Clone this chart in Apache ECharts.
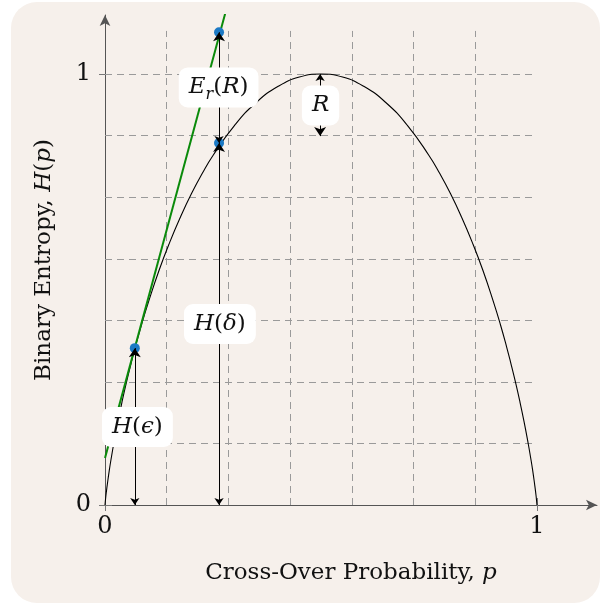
<html>
<head>
    <title>Binary entropy</title>
    <meta charset="utf-8">
    <style type="text/css">
        body { margin: 0; background: #fff; }
        #wrap { position: relative; width: 600px; height: 605px; }
        #bg { position: absolute; left: 11px; top: 2px; width: 589px; height: 601px; background: #f6f0eb; border-radius: 26px; }
        #chart { position: absolute; left: 0; top: 0; width: 600px; height: 605px; }
    </style>
</head>
<body>
    <div id="wrap">
        <div id="bg"></div>
        <div id="chart"></div>
    </div>
</body>
</html>

<script src="https://cdn.jsdelivr.net/npm/echarts@6/dist/echarts.min.js"></script>
<script>

    // binary entropy curve
    var curveP = [0, 0.002, 0.005, 0.01, 0.015, 0.02, 0.03, 0.04, 0.05, 0.06, 0.07, 0.085, 0.1, 0.125, 0.15, 0.175, 0.2, 0.225, 0.25,
        0.3, 0.35, 0.4, 0.45, 0.5, 0.55, 0.6, 0.65, 0.7, 0.75, 0.775, 0.8, 0.825, 0.85, 0.875, 0.9, 0.915, 0.93, 0.94, 0.95,
        0.96, 0.97, 0.98, 0.985, 0.99, 0.995, 0.998, 1];
    var curveH = [0, 0.021, 0.045, 0.081, 0.112, 0.141, 0.194, 0.242, 0.286, 0.327, 0.366, 0.420, 0.469, 0.544, 0.610, 0.669, 0.722, 0.769, 0.811,
        0.881, 0.934, 0.971, 0.993, 1, 0.993, 0.971, 0.934, 0.881, 0.811, 0.769, 0.722, 0.669, 0.610, 0.544, 0.469, 0.420, 0.366, 0.327, 0.286,
        0.242, 0.194, 0.141, 0.112, 0.081, 0.045, 0.021, 0];

    // green tangent line
    var tangentP = [0, 0.28];
    var tangentH = [0.109, 1.147];

    // blue points: H(eps), H(delta), tangent at delta
    var pointP = [0.069, 0.264, 0.264];
    var pointH = [0.364, 0.840, 1.097];

    // double arrows [p, from, to]
    var arrowP = [0.069, 0.264, 0.264, 0.498];
    var arrowFrom = [0, 0, 0.840, 1.0];
    var arrowTo = [0.364, 0.840, 1.097, 0.856];

    // boxed labels
    var labelText = ['{i|E}{s|r}{n|(}{i|R}{n|)}', '{i|R}', '{i|H}{n|(}{i|δ}{n|)}', '{i|H}{n|(}{i|ϵ}{n|)}'];
    var labelP = [0.263, 0.499, 0.266, 0.075];
    var labelH = [0.969, 0.927, 0.420, 0.181];

    // dashed grid
    var gridX = [0.1429, 0.2857, 0.4286, 0.5714, 0.7143, 0.8571];
    var gridY = [0.1429, 0.2857, 0.4286, 0.5714, 0.7143, 0.8571, 1];
    var gridTop = 1.1;
    var gridRight = 1;

    var tickValues = [0, 1];

    var font = 'DejaVu Serif';
    var ink = '#111';

    var richText = {
        n: { fontFamily: font, fontSize: 23, color: ink, lineHeight: 30 },
        i: { fontFamily: font, fontSize: 23, color: ink, fontStyle: 'italic', lineHeight: 30 }
    };

    var curveData = [];
    for (var i = 0; i < curveP.length; i++) {
        curveData.push([curveP[i], curveH[i]]);
    }

    var tangentData = [];
    for (var i = 0; i < tangentP.length; i++) {
        tangentData.push([tangentP[i], tangentH[i]]);
    }

    var pointData = [];
    for (var i = 0; i < pointP.length; i++) {
        pointData.push([pointP[i], pointH[i]]);
    }

    var arrowData = [];
    for (var i = 0; i < arrowP.length; i++) {
        arrowData.push({ coords: [[arrowP[i], arrowFrom[i]], [arrowP[i], arrowTo[i]]] });
    }

    var gridData = [];
    for (var i = 0; i < gridX.length; i++) {
        gridData.push({ coords: [[gridX[i], 0], [gridX[i], gridTop]] });
    }
    for (var i = 0; i < gridY.length; i++) {
        gridData.push({ coords: [[0, gridY[i]], [gridRight, gridY[i]]] });
    }

    var labelData = [];
    for (var i = 0; i < labelText.length; i++) {
        labelData.push({ value: [labelP[i], labelH[i]], text: labelText[i] });
    }

    var xMax = 1.139;
    var yMax = 1.137;

    function mainAxis(isX) {
        return {
            type: 'value',
            min: 0,
            max: isX ? xMax : yMax,
            position: isX ? 'bottom' : 'left',
            name: isX ? '{n|Cross-Over Probability, }{i|p}' : '{n|Binary Entropy, }{i|H}{n|(}{i|p}{n|)}',
            nameLocation: 'middle',
            nameGap: isX ? 53 : 46,
            nameTextStyle: { rich: richText },
            axisLine: {
                show: true,
                symbol: ['none', 'arrow'],
                symbolSize: [8, 11],
                lineStyle: { color: '#555', width: 1 }
            },
            axisTick: { show: true, customValues: tickValues, length: 6, lineStyle: { color: '#777' } },
            axisLabel: {
                customValues: tickValues,
                fontFamily: font,
                fontSize: 24,
                color: ink,
                margin: isX ? 10 : 14
            },
            splitLine: { show: false }
        };
    }

    function innerAxis(isX) {
        return {
            type: 'value',
            min: 0,
            max: isX ? xMax : yMax,
            position: isX ? 'bottom' : 'left',
            axisLine: { show: false },
            axisTick: { show: true, inside: true, customValues: tickValues, length: 7, lineStyle: { color: '#777' } },
            axisLabel: { show: false },
            splitLine: { show: false }
        };
    }

    var option = {
        animation: false,
        backgroundColor: 'transparent',
        grid: { left: 105, right: 3, top: 15, bottom: 100 },
        xAxis: [mainAxis(true), innerAxis(true)],
        yAxis: [mainAxis(false), innerAxis(false)],
        series: [
            {
                type: 'lines',
                coordinateSystem: 'cartesian2d',
                data: gridData,
                silent: true,
                z: 1,
                lineStyle: { color: '#9a9a9a', width: 1, type: [7, 5], opacity: 1 }
            },
            {
                type: 'line',
                data: curveData,
                showSymbol: false,
                smooth: true,
                z: 3,
                lineStyle: { color: '#000', width: 1.1 }
            },
            {
                type: 'line',
                data: tangentData,
                showSymbol: false,
                z: 4,
                lineStyle: { color: '#0a8a0a', width: 2 }
            },
            {
                type: 'scatter',
                data: pointData,
                symbolSize: 10,
                z: 5,
                itemStyle: { color: '#1b79c4', opacity: 1 }
            },
            {
                type: 'lines',
                coordinateSystem: 'cartesian2d',
                data: arrowData,
                symbol: ['arrow', 'arrow'],
                symbolSize: [7, 9],
                z: 6,
                lineStyle: { color: '#000', width: 1, opacity: 1 }
            },
            {
                type: 'scatter',
                data: labelData,
                symbolSize: 1,
                z: 8,
                itemStyle: { color: 'rgba(0,0,0,0)', opacity: 1 },
                label: {
                    show: true,
                    position: 'inside',
                    opacity: 1,
                    formatter: function (p) { return p.data.text; },
                    backgroundColor: '#fff',
                    borderRadius: 9,
                    padding: [5, 10],
                    rich: {
                        n: richText.n,
                        i: richText.i,
                        s: { fontFamily: font, fontSize: 16, color: ink, fontStyle: 'italic', lineHeight: 30, padding: [14, 0, 0, 0] }
                    }
                }
            }
        ]
    };

    var chart = echarts.init(document.getElementById('chart'), null, { renderer: 'canvas' });
    chart.setOption(option);

</script>
